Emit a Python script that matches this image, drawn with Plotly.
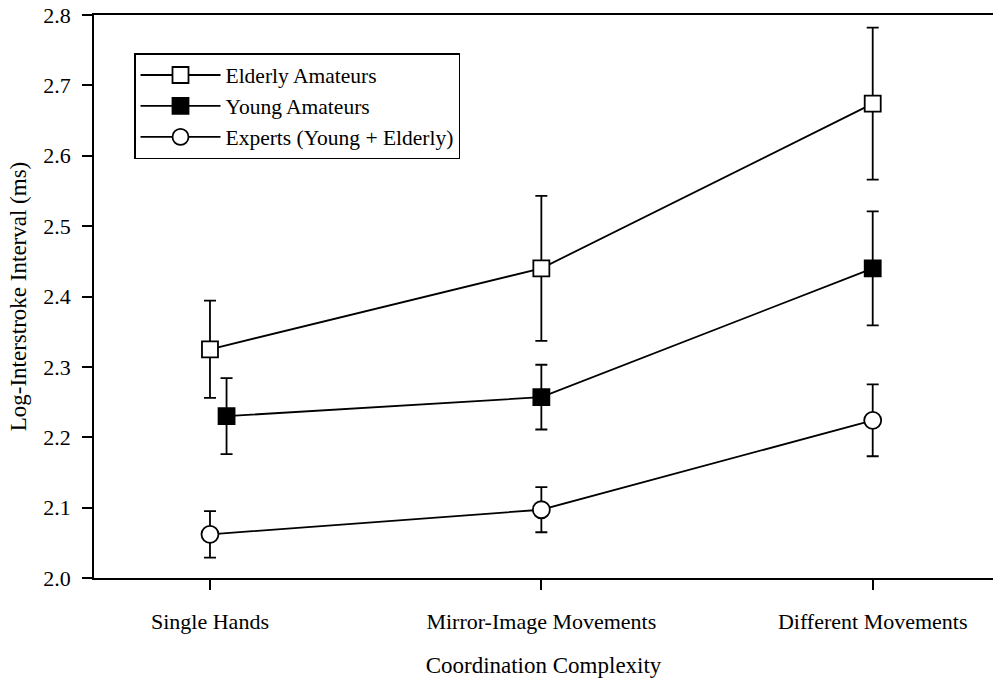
import plotly.graph_objects as go

categories = ["Single Hands", "Mirror-Image Movements", "Different Movements"]
series_names = ["Elderly Amateurs", "Young Amateurs", "Experts (Young + Elderly)"]

elderly_vals = [2.325, 2.440, 2.674]
elderly_err = [0.069, 0.103, 0.108]
young_vals = [2.230, 2.257, 2.440]
young_err = [0.054, 0.046, 0.081]
expert_vals = [2.062, 2.097, 2.224]
expert_err = [0.033, 0.032, 0.051]

# small horizontal offsets used in the original to avoid overlap
elderly_off = [0.0, 0.0, 0.0]
young_off = [0.05, 0.0, 0.0]
expert_off = [0.0, 0.0, 0.0]

y_ticks = [2.0, 2.1, 2.2, 2.3, 2.4, 2.5, 2.6, 2.7, 2.8]

FONT = "Liberation Serif, Times New Roman, serif"

fig = go.Figure()

specs = [
    (series_names[0], elderly_vals, elderly_err, elderly_off, "square", "white", 16),
    (series_names[1], young_vals, young_err, young_off, "square", "black", 16),
    (series_names[2], expert_vals, expert_err, expert_off, "circle", "white", 17),
]

for name, vals, errs, offs, sym, fill, size in specs:
    xs = [i + o for i, o in enumerate(offs)]
    fig.add_trace(go.Scatter(
        x=xs, y=vals, name=name, mode="lines+markers",
        line=dict(color="black", width=1.8),
        marker=dict(symbol=sym, size=size, color=fill,
                    line=dict(color="black", width=1.8)),
        error_y=dict(type="data", array=errs, visible=True,
                     color="black", thickness=1.8, width=6),
    ))

fig.update_layout(
    width=993, height=678,
    margin=dict(l=94, r=0, t=15, b=100),
    paper_bgcolor="white", plot_bgcolor="white",
    font=dict(family=FONT, size=20, color="black"),
    showlegend=True,
    legend=dict(
        x=0.0445, y=0.9325, xanchor="left", yanchor="top",
        bgcolor="white", bordercolor="black", borderwidth=1.5,
        font=dict(family=FONT, size=21.5, color="black"),
        tracegroupgap=0, itemwidth=80,
    ),
    xaxis=dict(
        range=[-0.35, 2.363],
        tickmode="array", tickvals=[0, 1, 2], ticktext=categories,
        ticks="outside", ticklen=10, tickwidth=1.5, tickcolor="black",
        showline=True, linecolor="black", linewidth=1.5, mirror=True,
        showgrid=False, zeroline=False,
        tickfont=dict(family=FONT, size=22),
        ticklabelstandoff=13,
        title=dict(text="Coordination Complexity", standoff=24,
                   font=dict(family=FONT, size=23)),
    ),
    yaxis=dict(
        range=[2.0, 2.8],
        tickmode="array", tickvals=y_ticks,
        ticktext=[f"{v:.1f}" for v in y_ticks],
        ticks="outside", ticklen=10, tickwidth=1.5, tickcolor="black",
        showline=True, linecolor="black", linewidth=1.5, mirror=False,
        showgrid=False, zeroline=False,
        tickfont=dict(family=FONT, size=22),
        ticklabelstandoff=7,
        title=dict(text="Log-Interstroke Interval (ms)", standoff=10,
                   font=dict(family=FONT, size=23)),
    ),
)

fig.write_html("out.html")
